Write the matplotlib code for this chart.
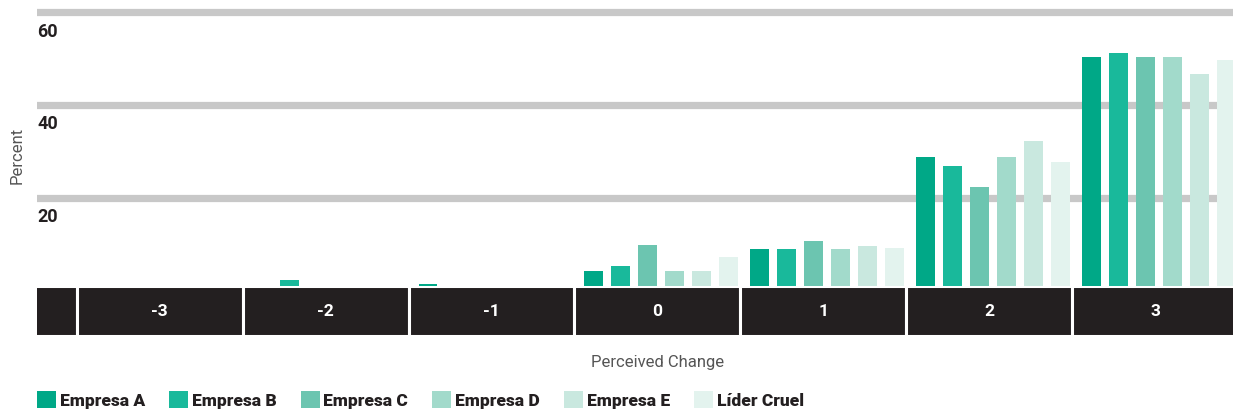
import numpy as np
import matplotlib.pyplot as plt
from matplotlib.patches import Patch

# perceived change categories
changes = [-3, -2, -1, 0, 1, 2, 3]
series = ['Empresa A', 'Empresa B', 'Empresa C', 'Empresa D', 'Empresa E', 'Líder Cruel']

empresa_a = [0, 0, 1.3, 4.2, 8.9, 28.7, 50.2]
empresa_b = [0, 2.3, 0, 5.2, 8.9, 26.9, 51.2]
empresa_c = [0, 0, 0, 9.7, 10.6, 22.3, 50.2]
empresa_d = [0, 0, 1.0, 4.2, 8.9, 28.7, 50.2]
empresa_e = [0, 0, 0, 4.2, 9.6, 32.2, 46.6]
lider_cruel = [0, 0, 0, 7.3, 9.2, 27.6, 49.7]

colors = ['#00a887', '#19b99b', '#6cc5b0', '#a2dacb', '#c9e8df', '#e3f3ee']
y_ticks = [20, 40, 60]

cond = ['Liberation Sans Narrow', 'Roboto', 'DejaVu Sans']

W, H = 1233, 417
fig = plt.figure(figsize=(W / 100, H / 100), dpi=100)

x_left, x_right = -3.74, 3.47
zero_px, top_px = 290.4, 5
ymax = (zero_px - top_px) / 4.64

ax = fig.add_axes([37 / W, (H - zero_px) / H, 1 - 37 / W, (zero_px - top_px) / H])
ax.set_xlim(x_left, x_right)
ax.set_ylim(0, ymax)

all_vals = [empresa_a, empresa_b, empresa_c, empresa_d, empresa_e, lider_cruel]
x = np.array(changes, dtype=float)
step = 0.1627
bw = 0.114
for i, vals in enumerate(all_vals):
    ax.bar(x + (i - 2.5) * step + 0.024, vals, width=bw, color=colors[i], zorder=3)

for v in y_ticks:
    ax.axhline(v, color='#c8c8c8', lw=5.2, zorder=1)
    ax.text(0.0, v - 2.3, str(v), transform=ax.get_yaxis_transform(),
            ha='left', va='top', fontsize=13, fontweight='bold',
            color='#231f20', family=cond)

ax.set_xticks([])
ax.set_yticks([])
for s in ax.spines.values():
    s.set_visible(False)

fig.text(17 / W, 1 - 155 / H, 'Percent', rotation=90, ha='center', va='center',
         fontsize=12, color='#555555', family=cond)

# black band with category labels
band = fig.add_axes([37 / W, (H - 336) / H, 1 - 37 / W, 50 / H])
band.set_xlim(x_left, x_right)
band.set_ylim(0, 1)
band.bar([changes[0] - 1] + changes, 1, width=1, align='center', bottom=0,
         color='#231f20', edgecolor='white', linewidth=2.2)
for c in changes:
    band.text(c, 0.5, str(c), ha='center', va='center', color='white',
              fontsize=12.5, fontweight='bold', family=cond)
band.axis('off')

fig.text((657.5) / W, 1 - 363 / H, 'Perceived Change', ha='center', va='center',
         fontsize=12, color='#555555', family=cond)

handles = [Patch(facecolor=colors[i], edgecolor='none') for i in range(len(series))]
leg = fig.legend(handles, series, loc='center left', bbox_to_anchor=(37 / W, 1 - 400 / H),
                 ncol=6, frameon=False, handlelength=1.1, handleheight=1.15,
                 handletextpad=0.2, columnspacing=1.4, borderpad=0, borderaxespad=0,
                 prop={'family': cond, 'weight': 900, 'size': 12.5})
for t in leg.get_texts():
    t.set_color('#231f20')

fig.savefig('out.png', dpi=100)
